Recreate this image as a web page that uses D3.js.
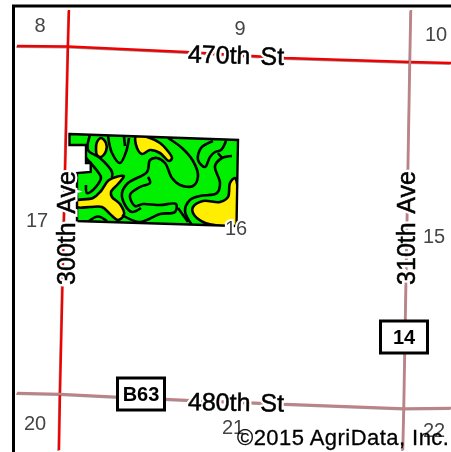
<!DOCTYPE html>
<html>
<head>
<meta charset="utf-8">
<script src="https://cdnjs.cloudflare.com/ajax/libs/d3/7.8.5/d3.min.js"></script>
<style>
  html, body { margin: 0; padding: 0; background: #fff; }
  svg { display: block; }
  text { font-family: "Liberation Sans", Arial, sans-serif; }
</style>
</head>
<body>
<div id="map"></div>
<script>
const road470 = [[17, 46], [68, 46.5], [186, 52], [285, 58], [410, 62], [451, 63]];
const road480 = [[17, 393], [60, 394], [120, 397], [186, 400], [285, 404], [404, 408.5], [451, 408]];
const ave300 = [[69, 10], [68, 46], [60, 394], [59, 450]];
const ave310 = [[411, 10], [410, 62], [404, 408], [403, 450]];

const sections = [
    ["8", 40, 25], ["9", 240, 28], ["10", 436, 34],
    ["17", 37, 220], ["16", 236, 228], ["15", 434, 236],
    ["20", 35, 423], ["21", 233, 427], ["22", 434, 430]
];
const roadLabels = [
    ["470th St", 236, 55, 1.5],
    ["480th St", 236, 402, 1],
    ["300th Ave", 66, 228, -90],
    ["310th Ave", 406, 228, -90]
];
const shields = [["B63", 141, 394], ["14", 404, 337]];

const fieldOutline = [
    [69.5, 134], [238, 140], [236.5, 226], [77, 221],
    [77, 173], [90.7, 172], [90.7, 163], [86, 163], [86, 145], [69.5, 145]
];
const yellowAreas = [
    [[136, 136], [150, 138], [160, 143], [167, 150], [172, 158], [169, 161], [160, 153], [150, 150], [142, 154], [137, 148]],
    [[75, 201], [93, 198], [101, 191], [109, 180], [124, 176], [118, 184], [111, 192], [112, 197], [120, 204], [124, 215], [118, 220], [110, 214], [102, 207], [90, 207], [77, 207]],
    [[235, 178], [230, 183], [228, 197], [220, 202], [203, 201], [193, 207], [193, 213], [203, 222], [220, 226], [236, 226]]
];
const soilOval = [[101, 138], [106, 143], [106, 151], [101, 157], [97, 155], [96, 149], [97, 142]];
const soilLines = [
    [[90, 135], [88, 150], [100, 158], [112, 172], [112, 178]],
    [[86, 158], [98, 172], [101, 178], [93, 190], [87, 193], [86, 185]],
    [[108, 136], [112, 153], [120, 163], [126, 152], [129, 138]],
    [[124, 137], [125, 146]],
    [[168, 138], [182, 148], [193, 161], [198, 176], [193, 186], [180, 185], [172, 178], [165, 163], [157, 158], [150, 160], [147, 172], [128, 183], [122, 193], [125, 205], [132, 212], [141, 208]],
    [[148, 177], [150, 183], [140, 187], [130, 195], [135, 206], [143, 204], [160, 205], [176, 204], [175, 212], [160, 214], [140, 222], [122, 215]],
    [[213, 141], [201, 148], [198, 160], [205, 167], [210, 157], [215, 152], [221, 150], [226, 141]],
    [[232, 156], [222, 158], [215, 166], [220, 183], [217, 193], [200, 196], [190, 200], [185, 211], [192, 225]],
    [[218, 153], [222, 158]],
    [[178, 208], [188, 222]],
    [[89, 221], [98, 216.5], [107, 221]]
];

const copyrightText = "©2015 AgriData, Inc.";

class SoilMap {
    constructor(opts) {
        this.element = opts.element;
        this.width = 451;
        this.height = 452;
        this.draw();
    }

    draw() {
        this.svg = d3.select(this.element).append("svg")
            .attr("width", this.width)
            .attr("height", this.height);

        this.x = d3.scaleLinear().domain([0, this.width]).range([0, this.width]);
        this.y = d3.scaleLinear().domain([0, this.height]).range([0, this.height]);

        // the reference is a resampled bitmap, so soften everything a little
        this.svg.append("defs").append("filter").attr("id", "soft")
            .append("feGaussianBlur").attr("stdDeviation", 0.4);

        this.root = this.svg.append("g").attr("filter", "url(#soft)");
        this.path = d3.line().x(d => this.x(d[0])).y(d => this.y(d[1]));
        this.smooth = d3.line().x(d => this.x(d[0])).y(d => this.y(d[1])).curve(d3.curveCatmullRom);
        this.smoothClosed = d3.line().x(d => this.x(d[0])).y(d => this.y(d[1])).curve(d3.curveCatmullRomClosed);

        this.drawFrame();
        this.drawRoads();
        this.drawField();
        this.drawSections();
        this.drawRoadLabels();
        this.drawShields();
        this.drawCopyright();
    }

    drawFrame() {
        this.root.append("path")
            .attr("d", this.path([[13.5, 452], [13.5, 6], [451, 6]]))
            .attr("fill", "none")
            .attr("stroke", "#000")
            .attr("stroke-width", 3);
    }

    drawSections() {
        this.root.selectAll("text.section")
            .data(sections)
            .enter()
            .append("text")
            .attr("class", "section")
            .attr("x", d => this.x(d[1]))
            .attr("y", d => this.y(d[2]))
            .attr("dy", "0.35em")
            .attr("text-anchor", "middle")
            .attr("font-size", 20)
            .attr("fill", "#444")
            .attr("stroke", "#fff")
            .attr("stroke-width", 4)
            .attr("paint-order", "stroke")
            .text(d => d[0]);
    }

    drawRoads() {
        const roads = [
            { pts: road470, color: "#f00000" },
            { pts: ave300, color: "#f00000" },
            { pts: road480, color: "#c08085" },
            { pts: ave310, color: "#c08085" }
        ];
        // grey shadow first, then the road colour on top
        this.root.selectAll("path.shadow")
            .data(roads)
            .enter()
            .append("path")
            .attr("d", d => this.path(d.pts))
            .attr("transform", "translate(-0.7,1)")
            .attr("fill", "none")
            .attr("stroke", "#999")
            .attr("stroke-width", 2);
        this.root.selectAll("path.road")
            .data(roads)
            .enter()
            .append("path")
            .attr("d", d => this.path(d.pts))
            .attr("fill", "none")
            .attr("stroke", d => d.color)
            .attr("stroke-width", 2.4);
    }

    drawField() {
        const g = this.root.append("g");
        g.append("clipPath").attr("id", "fieldClip")
            .append("path").attr("d", this.path(fieldOutline) + "Z");

        g.append("path")
            .attr("d", this.path(fieldOutline) + "Z")
            .attr("fill", "#00f000");

        const inside = g.append("g").attr("clip-path", "url(#fieldClip)");
        inside.selectAll("path.yellow")
            .data(yellowAreas)
            .enter()
            .append("path")
            .attr("d", d => this.smoothClosed(d))
            .attr("fill", "#ffee00")
            .attr("stroke", "#000")
            .attr("stroke-width", 2.6);
        inside.append("path")
            .attr("d", this.smoothClosed(soilOval))
            .attr("fill", "#ffee00")
            .attr("stroke", "#000")
            .attr("stroke-width", 2.6);
        inside.selectAll("path.line")
            .data(soilLines)
            .enter()
            .append("path")
            .attr("d", d => this.smooth(d))
            .attr("fill", "none")
            .attr("stroke", "#000")
            .attr("stroke-width", 2.6);

        g.append("path")
            .attr("d", this.path(fieldOutline) + "Z")
            .attr("fill", "none")
            .attr("stroke", "#000")
            .attr("stroke-width", 2.4);
    }

    drawRoadLabels() {
        // white halo underneath, then a slightly heavier black label
        this.root.selectAll("text.roadHalo")
            .data(roadLabels)
            .enter()
            .append("text")
            .attr("class", "roadHalo")
            .attr("transform", d => `translate(${this.x(d[1])},${this.y(d[2])}) rotate(${d[3]})`)
            .attr("dy", "0.35em")
            .attr("text-anchor", "middle")
            .attr("font-size", 25)
            .attr("word-spacing", 3)
            .attr("fill", "#fff")
            .attr("stroke", "#fff")
            .attr("stroke-width", 5)
            .text(d => d[0]);
        this.root.selectAll("text.roadLabel")
            .data(roadLabels)
            .enter()
            .append("text")
            .attr("class", "roadLabel")
            .attr("transform", d => `translate(${this.x(d[1])},${this.y(d[2])}) rotate(${d[3]})`)
            .attr("dy", "0.35em")
            .attr("text-anchor", "middle")
            .attr("font-size", 25)
            .attr("word-spacing", 3)
            .attr("fill", "#000")
            .attr("stroke", "#000")
            .attr("stroke-width", 0.5)
            .text(d => d[0]);
    }

    drawShields() {
        const s = this.root.selectAll("g.shield")
            .data(shields)
            .enter()
            .append("g")
            .attr("class", "shield")
            .attr("transform", d => `translate(${this.x(d[1])},${this.y(d[2])})`);
        s.append("rect")
            .attr("x", -23.5).attr("y", -16)
            .attr("width", 47).attr("height", 32)
            .attr("fill", "#fff")
            .attr("stroke", "#000")
            .attr("stroke-width", 3);
        s.append("text")
            .attr("dy", "0.35em")
            .attr("text-anchor", "middle")
            .attr("font-size", 20)
            .attr("font-weight", "bold")
            .text(d => d[0]);
    }

    drawCopyright() {
        this.root.append("text")
            .attr("x", this.x(237))
            .attr("y", this.y(445))
            .attr("font-size", 22)
            .attr("letter-spacing", 0.45)
            .attr("fill", "#000")
            .attr("stroke", "#000")
            .attr("stroke-width", 0.3)
            .text(copyrightText);
    }
}

new SoilMap({ element: "#map" });
</script>
</body>
</html>
